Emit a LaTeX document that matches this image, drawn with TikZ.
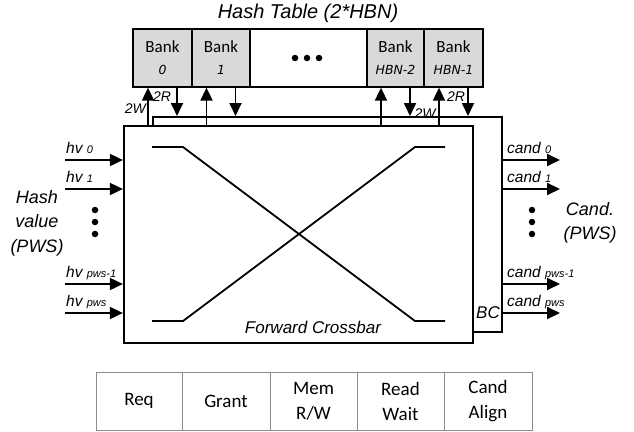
\documentclass[tikz,border=0pt]{standalone}
\usepackage{fontspec}
\setmainfont{Liberation Sans}
\newfontfamily\calib{Carlito}
\newfontfamily\dvs{DejaVu Sans}
\usetikzlibrary{arrows.meta}
\definecolor{bankgray}{HTML}{D9D9D9}
\definecolor{cellgray}{HTML}{8C8C8C}
\tikzset{
  arr/.style={line width=1.8pt, -{Triangle[length=13pt,width=12pt]}},
  wire/.style={line width=1.8pt},
  bank/.style={draw, line width=1.3pt, fill=bankgray, minimum height=58pt, inner sep=0pt, align=center, font=\calib\fontsize{17}{22}\selectfont},
  cell/.style={draw=cellgray, line width=1pt, minimum height=58pt, inner sep=0pt, align=center, font=\calib\fontsize{19}{25}\selectfont},
  lab/.style={font=\itshape\fontsize{15.5}{17}\selectfont, inner sep=0pt},
  small/.style={font=\itshape\fontsize{14}{16}\selectfont, inner sep=0pt},
  big/.style={font=\itshape\fontsize{18}{24.5}\selectfont, align=center, inner sep=0pt},
  dot/.style={circle, fill=black, inner sep=0pt, minimum size=6.5pt},
}
\newcommand{\sbs}[1]{{\fontsize{11}{12}\selectfont\itshape #1}}
\newcommand{\bnum}[1]{{\dvs\fontsize{12.5}{14}\selectfont\itshape #1}}
\begin{document}
\begin{tikzpicture}[x=1pt,y=-1pt]
\useasboundingbox (0,0) rectangle (634,431);
% title
\node[font=\itshape\fontsize{20}{24}\selectfont, inner sep=0pt] (title) at (308,13) {Hash Table (2*HBN)};
% banks
\node[bank, minimum width=59pt] (b0) at (162.5,58) {Bank\\\bnum{0}};
\node[bank, minimum width=58pt] (b1) at (221,58) {Bank\\\bnum{1}};
\node[draw, line width=1.3pt, fill=white, minimum width=117pt, minimum height=58pt] (bd) at (308.5,58) {};
\node[bank, minimum width=57pt] (b2) at (395.5,58) {Bank\\\bnum{HBN-2}};
\node[bank, minimum width=59pt] (b3) at (453.5,58) {Bank\\\bnum{HBN-1}};
\node[dot] (d1) at (295,58) {};
\node[dot] (d2) at (307,58) {};
\node[dot] (d3) at (319,58) {};
% BC and main boxes
\node[draw, line width=2pt, fill=white, minimum width=349pt, minimum height=215pt] (bc) at (327.5,224.5) {};
\node[draw, line width=2.2pt, fill=white, minimum width=349pt, minimum height=217pt] (main) at (298.5,234.5) {};
% bank arrows
\foreach \b in {b0,b1,b2,b3}{
  \coordinate (\b u) at ([xshift=-14.5pt]\b.south);
  \coordinate (\b d) at ([xshift=14.5pt]\b.south);
  \draw[arr] (\b u |- main.north) -- (\b u);
  \draw[arr] (\b d) -- (\b d |- bc.north);
}
\node[small, anchor=east] (w0) at (146,109) {2W};
\node[small] (r0) at (162,97) {2R};
\node[small] (w3) at (425,114) {2W};
\node[small] (r3) at (456,97) {2R};
% crossbar
\draw[wire] (152,147) -- (183,147) -- (415,321) -- (445,321);
\draw[wire] (152,321) -- (183,321) -- (415,147) -- (445,147);
\node[font=\itshape\fontsize{17}{18}\selectfont, inner sep=0pt] (fc) at (313,327) {Forward Crossbar};
\node[font=\itshape\fontsize{17}{18}\selectfont, inner sep=0pt] (bcl) at (488,313) {BC};
% inputs
\foreach \y/\n/\s in {160/i0/0, 189/i1/1, 284/i2/pws-1, 313/i3/pws}{
  \coordinate (\n) at (65,\y);
  \draw[arr] (\n) -- (\n -| main.west);
  \node[lab, anchor=base west] (\n l) at (66,\y-6.5) {hv \sbs{\s}};
}
\node[dot] (ld1) at (95,210) {};
\node[dot] (ld2) at (95,222) {};
\node[dot] (ld3) at (95,234) {};
\node[big] (hvl) at (37,223) {Hash\\value\\(PWS)};
% outputs
\foreach \y/\n/\s in {160/o0/0, 189/o1/1, 284/o2/pws-1, 313/o3/pws}{
  \coordinate (\n) at (bc.east |- 0,\y);
  \coordinate (\n e) at (560,\y);
  \draw[arr] (\n) -- (\n e);
  \node[lab, anchor=base west] (\n l) at (507,\y-6.5) {cand \sbs{\s}};
}
\node[dot] (rd1) at (532,210) {};
\node[dot] (rd2) at (532,222) {};
\node[dot] (rd3) at (532,234) {};
\node[big] (cdl) at (590,223) {Cand.\\(PWS)};
% pipeline table
\node[cell, minimum width=86pt] (c1) at (139,401) {Req};
\node[cell, minimum width=88pt] (c2) at (226,401) {Grant};
\node[cell, minimum width=87pt] (c3) at (313.5,401) {Mem\\R/W};
\node[cell, minimum width=87pt] (c4) at (400.5,401) {Read\\Wait};
\node[cell, minimum width=88pt] (c5) at (488,401) {Cand\\Align};
\end{tikzpicture}
\end{document}
